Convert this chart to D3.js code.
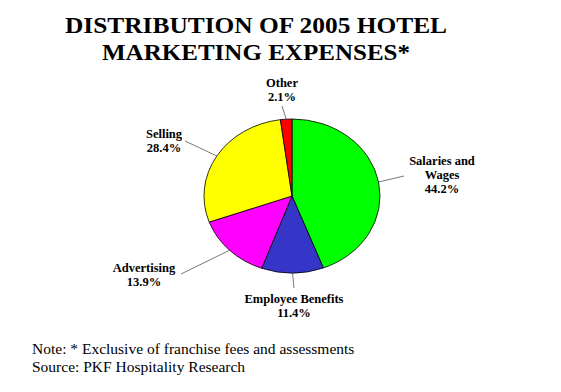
<!DOCTYPE html>
<html><head><meta charset="utf-8">
<script src="https://cdn.jsdelivr.net/npm/d3@7"></script>
<style>html,body{margin:0;padding:0;background:#fff;} svg{display:block;}</style>
</head><body>
<script>
const categories = ["Salaries and Wages", "Employee Benefits", "Advertising", "Selling", "Other"];
const labelLines = [["Salaries and", "Wages"], ["Employee Benefits"], ["Advertising"], ["Selling"], ["Other"]];
const values = [44.2, 11.4, 13.9, 28.4, 2.1];
const colors = ["#00FF00", "#3535C8", "#FF00FF", "#FFFF00", "#FF0000"];
const titleLines = ["DISTRIBUTION OF 2005 HOTEL", "MARKETING EXPENSES*"];
const notes = ["Note: * Exclusive of franchise fees and assessments", "Source: PKF Hospitality Research"];

// layout
const W = 561, H = 392;
const cx = 292, cy = 196, rx = 88, ry = 77;
const titleLayout = [{y: 33, w: 382}, {y: 60, w: 308}];
// label anchor (text center x, first baseline y) and leader end point
const labelLayout = [
  {x: 442, y: 165, lx: 404, ly: 176},
  {x: 294, y: 303, lx: 294, ly: 288},
  {x: 144, y: 272, lx: 181, ly: 274},
  {x: 164, y: 138, lx: 185, ly: 141},
  {x: 282, y: 87,  lx: 282, ly: 106}
];

const svg = d3.select("body").append("svg").attr("width", W).attr("height", H);

svg.append("g").selectAll("text").data(titleLines).join("text")
  .attr("x", 256).attr("y", (d, i) => titleLayout[i].y)
  .attr("text-anchor", "middle")
  .attr("font-family", "'Liberation Serif', 'Times New Roman', serif")
  .attr("font-weight", "bold").attr("font-size", 23)
  .attr("textLength", (d, i) => titleLayout[i].w)
  .attr("lengthAdjust", "spacingAndGlyphs")
  .text(d => d);

const pie = d3.pie().sort(null).value(d => d)(values);
const arc = d3.arc().innerRadius(0).outerRadius(ry);

const g = svg.append("g").attr("transform", `translate(${cx},${cy}) scale(${rx/ry},1)`);
g.selectAll("path").data(pie).join("path")
  .attr("d", arc)
  .attr("fill", (d, i) => colors[i])
  .attr("stroke", "#000").attr("stroke-width", 0.8)
  .attr("vector-effect", "non-scaling-stroke");

// leader lines and labels
pie.forEach((d, i) => {
  const a = (d.startAngle + d.endAngle) / 2;
  const px = cx + rx * Math.sin(a), py = cy - ry * Math.cos(a);
  const L = labelLayout[i];
  svg.append("line").attr("x1", px).attr("y1", py).attr("x2", L.lx).attr("y2", L.ly)
    .attr("stroke", "#555").attr("stroke-width", 0.8);
  const t = svg.append("text")
    .attr("text-anchor", "middle")
    .attr("font-family", "'Liberation Serif', 'Times New Roman', serif")
    .attr("font-weight", "bold").attr("font-size", 12.5);
  const lines = labelLines[i].concat([values[i].toFixed(1) + "%"]);
  lines.forEach((s, j) => {
    t.append("tspan").attr("x", L.x).attr("y", L.y + j * 14).text(s);
  });
});

svg.append("g").selectAll("text").data(notes).join("text")
  .attr("x", 32).attr("y", (d, i) => 354 + i * 18)
  .attr("font-family", "'Liberation Serif', 'Times New Roman', serif")
  .attr("font-size", 15.5)
  .text(d => d);
</script>
</body></html>
